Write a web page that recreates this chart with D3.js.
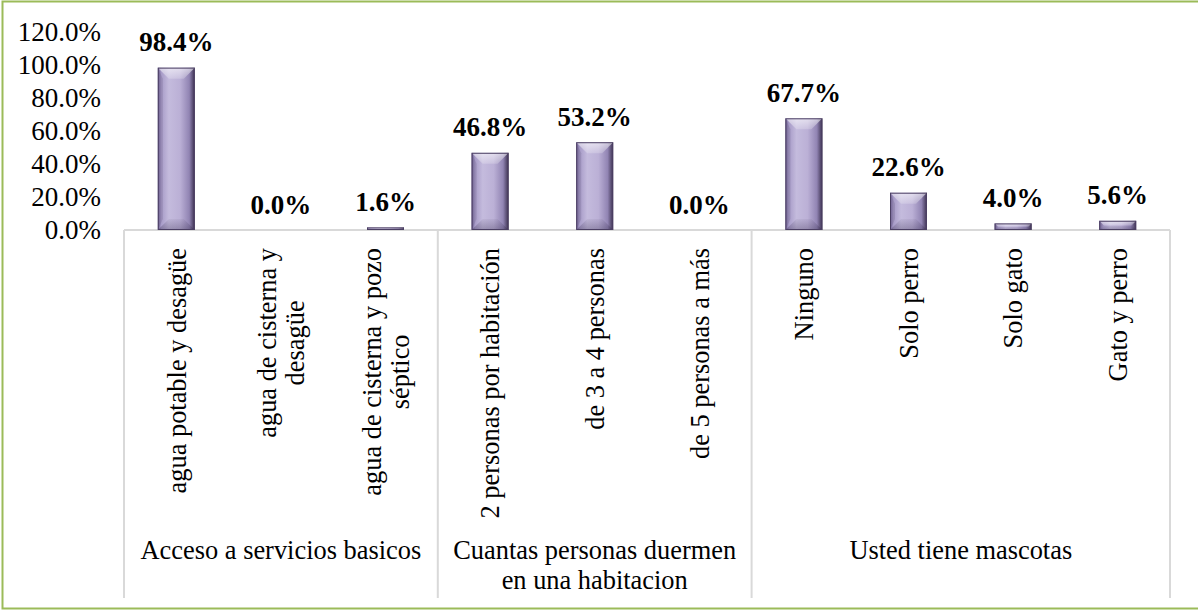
<!DOCTYPE html>
<html>
<head>
<meta charset="utf-8">
<script src="https://cdn.jsdelivr.net/npm/d3@7"></script>
<style>
  html, body { margin: 0; padding: 0; background: #ffffff; }
  svg { display: block; }
</style>
</head>
<body>
<svg id="chart" width="1198" height="612"></svg>
<script>
// ---- data ----
const categoryLines = [
  ["agua potable y desagüe"],
  ["agua de cisterna y", "desagüe"],
  ["agua de cisterna y pozo", "séptico"],
  ["2 personas por habitación"],
  ["de 3 a 4 personas"],
  ["de 5 personas a más"],
  ["Ninguno"],
  ["Solo perro"],
  ["Solo gato"],
  ["Gato y perro"]
];
const values = [0.984, 0.0, 0.016, 0.468, 0.532, 0.0, 0.677, 0.226, 0.040, 0.056];
const groupLines = [
  ["Acceso a servicios basicos"],
  ["Cuantas personas duermen", "en una habitacion"],
  ["Usted tiene mascotas"]
];
const groupSizes = [3, 3, 4];
const yTicks = [0, 0.2, 0.4, 0.6, 0.8, 1.0, 1.2];

// ---- layout ----
const FONT = "Liberation Serif";
const svg = d3.select("#chart");
const plotLeft = 124, plotRight = 1170, baseY = 230, topY = 32, sepBottom = 598;
const FS = 26.4, FS_TICK = 27, FS_LBL = 27;

// border
svg.append("rect")
  .attr("x", 2.5).attr("y", 1.5).attr("width", 1210).attr("height", 607)
  .attr("fill", "#fff").attr("stroke", "#9bbb59").attr("stroke-width", 2);

const idx = d3.range(values.length);
const x = d3.scaleBand().domain(idx).range([plotLeft, plotRight]).paddingInner(0).paddingOuter(0);
const y = d3.scaleLinear().domain([0, 1.2]).range([baseY, topY]);
const barW = 37;

// defs
const defs = svg.append("defs");
const face = defs.append("linearGradient").attr("id", "face").attr("x1", 0).attr("x2", 1).attr("y1", 0).attr("y2", 0);
[[0, "#75679a"], [0.1, "#a89cc8"], [0.3, "#c4bbdd"], [0.6, "#bbb0d6"], [0.85, "#9184b3"], [1, "#3a2f4e"]]
  .forEach(([o, c]) => face.append("stop").attr("offset", o).attr("stop-color", c));
const topG = defs.append("linearGradient").attr("id", "topbev").attr("x1", 0).attr("x2", 0).attr("y1", 0).attr("y2", 1);
[[0, "#ffffff", 0.6], [1, "#ffffff", 0.2]]
  .forEach(([o, c, a]) => topG.append("stop").attr("offset", o).attr("stop-color", c).attr("stop-opacity", a));
const botG = defs.append("linearGradient").attr("id", "botbev").attr("x1", 0).attr("x2", 0).attr("y1", 0).attr("y2", 1);
[[0, "#2a2040", 0.05], [1, "#2a2040", 0.3]]
  .forEach(([o, c, a]) => botG.append("stop").attr("offset", o).attr("stop-color", c).attr("stop-opacity", a));

// y axis labels
const fmt = d3.format(".1%");
svg.append("g").selectAll("text").data(yTicks).join("text")
  .attr("font-family", FONT)
  .attr("x", 101).attr("y", d => y(d)).attr("dy", "0.34em")
  .attr("text-anchor", "end").attr("font-size", FS_TICK)
  .text(d => fmt(d));

// baseline and group separators
svg.append("line").attr("x1", plotLeft).attr("x2", plotRight).attr("y1", baseY).attr("y2", baseY)
  .attr("stroke", "#d9d9d9").attr("stroke-width", 2);
let acc = 0;
const seps = [0];
groupSizes.forEach(s => { acc += s; seps.push(acc); });
svg.append("g").selectAll("line").data(seps).join("line")
  .attr("x1", d => d === values.length ? plotRight : x(d))
  .attr("x2", d => d === values.length ? plotRight : x(d))
  .attr("y1", baseY).attr("y2", sepBottom)
  .attr("stroke", "#d9d9d9").attr("stroke-width", 2);

// bars
const bars = svg.append("g").selectAll("g").data(idx).join("g");
bars.each(function(i) {
  const g = d3.select(this);
  const v = values[i];
  if (v <= 0) return;
  const cx = x(i) + x.bandwidth() / 2;
  const x0 = cx - barW / 2, x1 = cx + barW / 2;
  const y0 = y(v), y1 = y(0);
  const h = y1 - y0;
  const b = Math.min(11, h / 2);
  const bs = Math.min(5, h / 2);
  g.append("rect").attr("x", x0).attr("y", y0).attr("width", barW).attr("height", h).attr("fill", "url(#face)");
  g.append("polygon")
    .attr("points", [[x0, y0], [x1, y0], [x1 - b, y0 + b], [x0 + b, y0 + b]].map(p => p.join(",")).join(" "))
    .attr("fill", "url(#topbev)");
  g.append("polygon")
    .attr("points", [[x0, y1], [x1, y1], [x1 - b, y1 - b], [x0 + b, y1 - b]].map(p => p.join(",")).join(" "))
    .attr("fill", "url(#botbev)");
  g.append("polygon")
    .attr("points", [[x0, y0], [x0 + bs, y0 + b], [x0 + bs, y1 - b], [x0, y1]].map(p => p.join(",")).join(" "))
    .attr("fill", "#3a2f4e").attr("fill-opacity", 0.15);
  g.append("rect").attr("x", x0 + 0.5).attr("y", y0 + 0.5).attr("width", barW - 1).attr("height", Math.max(0, h - 1))
    .attr("fill", "none").attr("stroke", "#4b3f63").attr("stroke-width", 1);
});

// data labels
svg.append("g").selectAll("text").data(idx).join("text")
  .attr("font-family", FONT)
  .attr("x", i => x(i) + x.bandwidth() / 2)
  .attr("y", i => y(values[i]) - 16.5)
  .attr("text-anchor", "middle").attr("font-size", FS_LBL).attr("font-weight", "bold")
  .text(i => fmt(values[i]));

// category labels (rotated)
const labelTop = 248;
const lineGap = 28;
idx.forEach(i => {
  const lines = categoryLines[i];
  const cx = x(i) + x.bandwidth() / 2;
  const n = lines.length;
  const tmp = svg.append("text").attr("font-family", FONT).attr("font-size", FS).text(lines[0]);
  const len0 = tmp.node().getComputedTextLength();
  tmp.remove();
  const mid = labelTop + len0 / 2;
  lines.forEach((ln, k) => {
    const off = (k - (n - 1) / 2) * lineGap;
    svg.append("text")
      .attr("font-family", FONT)
      .attr("transform", `translate(${cx + off},${mid}) rotate(-90)`)
      .attr("text-anchor", "middle").attr("dy", "0.35em")
      .attr("font-size", FS).text(ln);
  });
});

// group labels
groupLines.forEach((lines, gi) => {
  const a = seps[gi], bEnd = seps[gi + 1];
  const gx0 = x(a);
  const gx1 = bEnd === values.length ? plotRight : x(bEnd);
  const gcx = (gx0 + gx1) / 2;
  lines.forEach((ln, k) => {
    svg.append("text").attr("font-family", FONT).attr("x", gcx).attr("y", 559 + k * 29.5)
      .attr("text-anchor", "middle").attr("font-size", FS).text(ln);
  });
});
</script>
</body>
</html>
